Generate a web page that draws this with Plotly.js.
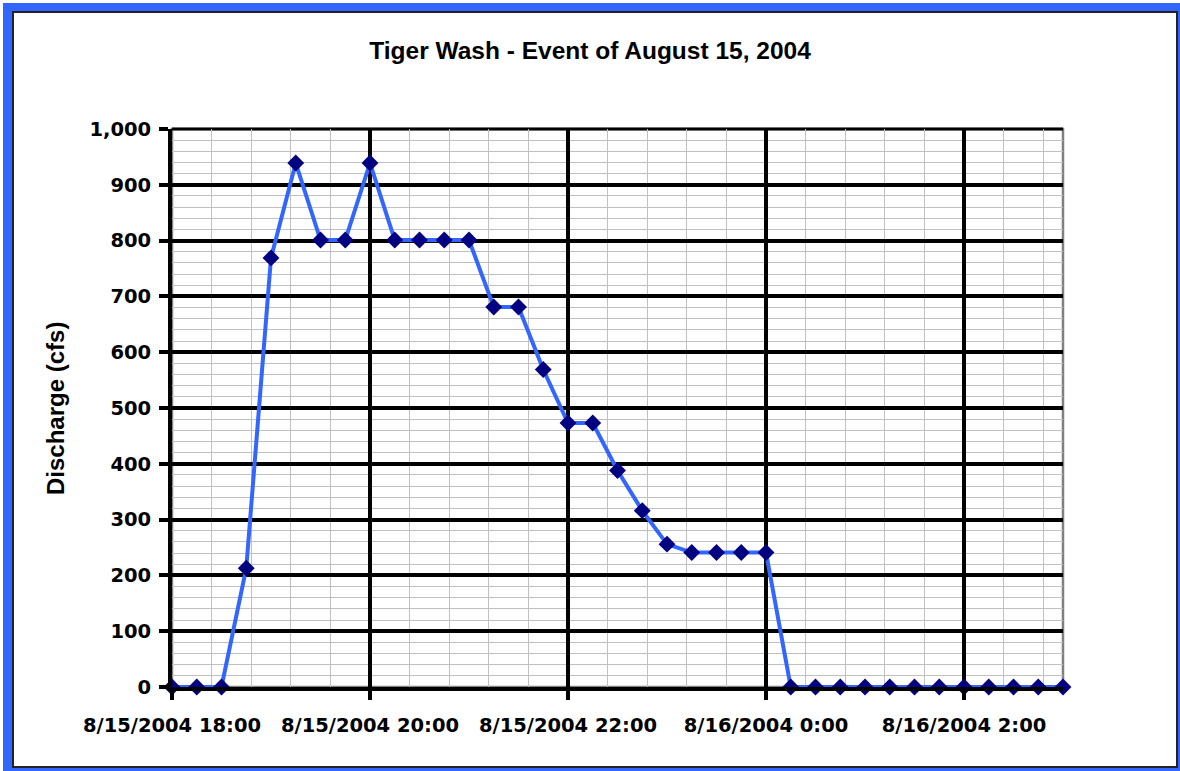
<!DOCTYPE html>
<html>
<head>
<meta charset="utf-8">
<script src="https://cdn.plot.ly/plotly-3.0.1.min.js"></script>
<style>
  html, body { margin: 0; padding: 0; background: #ffffff; }
  #chart { width: 1180px; height: 771px; }
</style>
</head>
<body>
<div id="chart"></div>
<script>
// ---- data ----
var times = [
  '2004-08-15 18:00', '2004-08-15 18:15', '2004-08-15 18:30', '2004-08-15 18:45',
  '2004-08-15 19:00', '2004-08-15 19:15', '2004-08-15 19:30', '2004-08-15 19:45',
  '2004-08-15 20:00', '2004-08-15 20:15', '2004-08-15 20:30', '2004-08-15 20:45',
  '2004-08-15 21:00', '2004-08-15 21:15', '2004-08-15 21:30', '2004-08-15 21:45',
  '2004-08-15 22:00', '2004-08-15 22:15', '2004-08-15 22:30', '2004-08-15 22:45',
  '2004-08-15 23:00', '2004-08-15 23:15', '2004-08-15 23:30', '2004-08-15 23:45',
  '2004-08-16 00:00', '2004-08-16 00:15', '2004-08-16 00:30', '2004-08-16 00:45',
  '2004-08-16 01:00', '2004-08-16 01:15', '2004-08-16 01:30', '2004-08-16 01:45',
  '2004-08-16 02:00', '2004-08-16 02:15', '2004-08-16 02:30', '2004-08-16 02:45',
  '2004-08-16 03:00'
];
var discharge = [
  0, 0, 0, 213,
  769, 939, 801, 801,
  939, 801, 801, 801,
  801, 681, 681, 569,
  473, 473, 388, 316,
  256, 241, 241, 241,
  241, 0, 0, 0,
  0, 0, 0, 0,
  0, 0, 0, 0,
  0
];
var xRange = ['2004-08-15 18:00', '2004-08-16 03:00'];
var yRange = [0, 1000];
var chartTitle = 'Tiger Wash - Event of August 15, 2004';
var yTitle = 'Discharge (cfs)';

// ---- geometry (pixels) ----
var W = 1180, H = 771;
var L = 172, R = 1063, T = 129, B = 687;
function px(x) { return (x - L) / (R - L); }
function py(y) { return (B - y) / (B - T); }

var tickFont = { family: 'DejaVu Sans, Arial, sans-serif', size: 19.5, color: '#000000', weight: 'bold' };

var trace = {
  type: 'scatter',
  mode: 'lines+markers',
  x: times,
  y: discharge,
  line: { color: '#3366FF', width: 4 },
  marker: { symbol: 'diamond', size: 13, color: '#000080', line: { width: 0 } },
  cliponaxis: false,
  hoverinfo: 'x+y'
};

var layout = {
  width: W, height: H,
  margin: { l: L, r: W - R, t: T, b: H - B, pad: 0 },
  paper_bgcolor: '#ffffff',
  plot_bgcolor: '#ffffff',
  showlegend: false,
  title: {
    text: chartTitle,
    font: { family: 'Liberation Sans, Arial, sans-serif', size: 24.5, color: '#000000', weight: 'bold' },
    xref: 'container', x: 0.5, xanchor: 'center',
    yref: 'container', y: 1 - 50 / H, yanchor: 'middle'
  },
  xaxis: {
    type: 'date',
    range: xRange,
    tick0: '2004-08-15 18:00',
    dtick: 7200000,
    tickformat: '%-m/%-d/%Y %-H:%M',
    tickfont: tickFont,
    ticks: 'outside', ticklen: 9, tickwidth: 4, tickcolor: '#000000',
    ticklabelstandoff: 9,
    showgrid: true, gridcolor: '#000000', gridwidth: 4,
    minor: { dtick: 1440000, tick0: '2004-08-15 18:00', showgrid: true, gridcolor: '#c0c0c0', gridwidth: 1, ticks: '' },
    showline: true, linecolor: '#000000', linewidth: 4,
    zeroline: false, fixedrange: true
  },
  yaxis: {
    range: yRange,
    dtick: 100,
    tickformat: ',d',
    tickfont: tickFont,
    ticks: 'outside', ticklen: 9, tickwidth: 4, tickcolor: '#000000',
    ticklabelstandoff: 4,
    showgrid: true, gridcolor: '#000000', gridwidth: 4,
    minor: { dtick: 20, showgrid: true, gridcolor: '#c0c0c0', gridwidth: 1, ticks: '' },
    showline: true, linecolor: '#000000', linewidth: 4,
    zeroline: false, fixedrange: true
  },
  shapes: [
    // blue outer frame
    { type: 'rect', xref: 'paper', yref: 'paper', layer: 'below',
      x0: px(3), x1: px(1180), y0: py(771), y1: py(3),
      fillcolor: '#3366FF', line: { width: 0 } },
    // white chart area with dark border
    { type: 'rect', xref: 'paper', yref: 'paper', layer: 'below',
      x0: px(13), x1: px(1177), y0: py(767), y1: py(12),
      fillcolor: '#ffffff', line: { color: '#222222', width: 2 } },
    // plot area border (grey)
    { type: 'rect', xref: 'paper', yref: 'paper', layer: 'below',
      x0: 0, x1: 1, y0: 0, y1: 1,
      fillcolor: 'rgba(0,0,0,0)', line: { color: '#808080', width: 2.5 } },
    // top black line
    { type: 'line', xref: 'paper', yref: 'paper', layer: 'below',
      x0: 0, x1: 1, y0: 1, y1: 1, line: { color: '#000000', width: 3 } }
  ],
  annotations: [
    { text: yTitle, xref: 'paper', yref: 'paper',
      x: px(55), y: 0.5, xanchor: 'center', yanchor: 'middle',
      textangle: -90, showarrow: false,
      font: { family: 'Liberation Sans, Arial, sans-serif', size: 24, color: '#000000', weight: 'bold' } }
  ]
};

Plotly.newPlot('chart', [trace], layout, { displayModeBar: false, staticPlot: true });
</script>
</body>
</html>
